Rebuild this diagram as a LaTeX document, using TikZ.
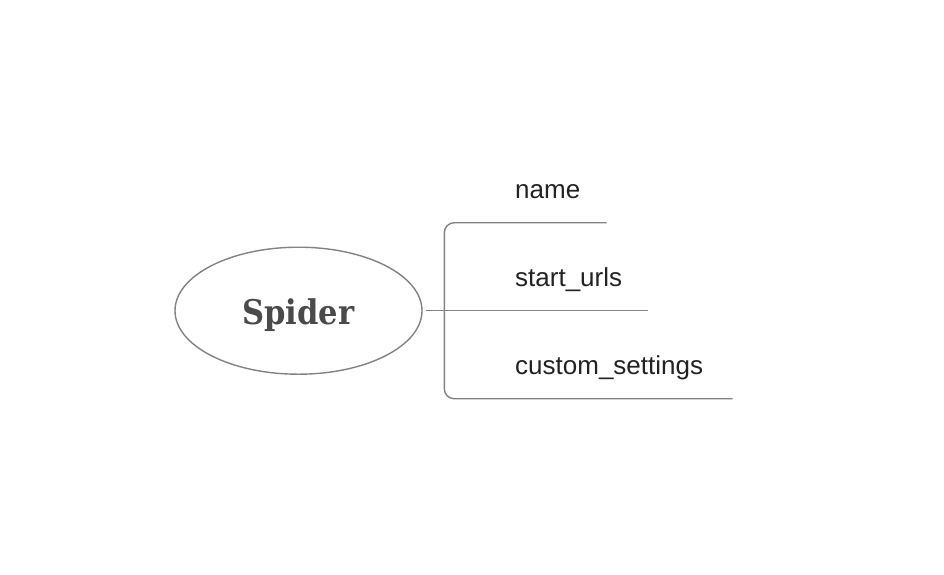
\documentclass[tikz,border=0pt]{standalone}
\usepackage{fontspec}
\setmainfont{Liberation Sans}
\newfontfamily\slabfont{DejaVu Serif Condensed}
\usetikzlibrary{shapes.geometric,positioning}
\definecolor{linegray}{HTML}{828282}
\definecolor{titlegray}{HTML}{4A4A4A}
\definecolor{labelblack}{HTML}{222222}
\tikzset{
  branch/.style={draw=linegray, line width=1.4pt},
  leaf/.style={anchor=base west, inner sep=0pt, text=labelblack, font=\fontsize{26}{26}\selectfont}
}

\begin{document}
\begin{tikzpicture}[x=1pt,y=-1pt]
   \useasboundingbox (0,0) rectangle (944,574);

   \node[ellipse, draw=linegray, line width=1.4pt, minimum width=247pt, minimum height=127pt, inner sep=0pt,
         text height=28pt, text depth=0pt, text=titlegray,
         font=\slabfont\bfseries\fontsize{34}{34}\selectfont] (spider) at (298.5,310.7) {Spider};

   \coordinate (fork) at (444.3,310.7);
   \coordinate (nameend) at (606.7,222.7);
   \coordinate (urlsend) at (648,310.7);
   \coordinate (customend) at (732.7,398.7);

   \draw[branch, shorten <=3pt] (spider.east) -- (urlsend);
   \draw[branch, rounded corners=10pt] (nameend) -- (fork |- nameend) -- (fork |- customend) -- (customend);

   \node[leaf] (name) at (515,198.3) {name};
   \node[leaf] (urls) at (515,286.5) {start\_urls};
   \node[leaf] (custom) at (515,374.5) {custom\_settings};
\end{tikzpicture}
\end{document}
